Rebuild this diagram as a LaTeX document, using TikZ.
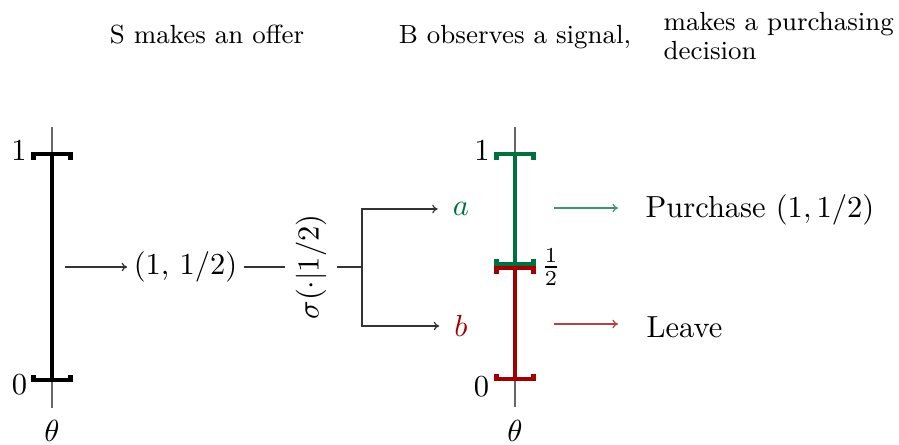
\documentclass[tikz,border=0pt]{standalone}
\usepackage{xcolor}
\usetikzlibrary{arrows.meta}
\definecolor{sgreen}{RGB}{0,112,62}
\definecolor{sred}{RGB}{162,0,0}
\begin{document}
\begin{tikzpicture}[x=0.32787pt,y=-0.32787pt,
  >={Computer Modern Rightarrow[length=1.8pt,width=2.8pt]},
  axisline/.style={draw=black!60, line width=0.4pt},
  bar/.style={line width=1.45pt},
  conn/.style={draw=black!80, line width=0.4pt},
  head/.style={font=\fontsize{8.6}{9.5}\selectfont, inner sep=0pt},
  lbl/.style={inner sep=0pt},
  leaf/.style={inner xsep=4.8pt}]
\useasboundingbox (0,0) rectangle (899,444);

% headings
\node[head, anchor=base] (h1) at (207,43) {S makes an offer};
\node[head, anchor=base] (h2) at (515,43) {B observes a signal,};
\node[head, anchor=north west, align=left] (h3) at (663,12) {makes a purchasing\\decision};

% left axis
\draw[axisline] (52,127) -- (52,408);
\draw[bar] (52,154) -- (52,380);
\draw[bar] (33.5,159.5) -- (33.5,154) -- (70.5,154) -- (70.5,159.5);
\draw[bar] (33.5,374.5) -- (33.5,380) -- (70.5,380) -- (70.5,374.5);
\node[lbl] (l1) at (19,150.5) {$1$};
\node[lbl] (l0) at (19.5,385) {$0$};
\node[lbl] (lt) at (52,431) {$\theta$};

% middle
\coordinate (s0) at (65,267);
\node[inner xsep=2pt] (p) at (185.5,267) {(1, 1/2)};
\node[rotate=90] (sg) at (311,267) {$\sigma(\cdot|1/2)$};
\coordinate (j) at (362,267);
\node[leaf, text=sgreen] (a) at (461,209) {$a$};
\node[leaf, text=sred] (b) at (461,326) {$b$};
\draw[conn,->] (s0) -- (p);
\draw[conn] (p) -- (sg);
\draw[conn] (sg) -- (j);
\draw[conn,->] (j) |- (a);
\draw[conn,->] (j) |- (b);

% right axis
\draw[axisline] (515,127) -- (515,407);
\draw[bar, sgreen] (515,154) -- (515,264);
\draw[bar, sred] (515,268) -- (515,379);
\draw[bar, sgreen] (496.5,159.5) -- (496.5,154) -- (533.5,154) -- (533.5,159.5);
\draw[bar, sgreen] (496.5,258.5) -- (496.5,264) -- (533.5,264) -- (533.5,258.5);
\draw[bar, sred] (496.5,273.5) -- (496.5,268) -- (533.5,268) -- (533.5,273.5);
\draw[bar, sred] (496.5,373.5) -- (496.5,379) -- (533.5,379) -- (533.5,373.5);
\node[lbl] (r1) at (482,150.5) {$1$};
\node[lbl] (r0) at (481.5,387) {$0$};
\node[lbl] (rh) at (551,267) {$\frac{1}{2}$};
\node[lbl] (rt) at (515,431) {$\theta$};

% outcomes
\coordinate (gs) at (554,208);
\coordinate (ge) at (618,208);
\coordinate (rs) at (554,324);
\coordinate (re) at (618,324);
\draw[line width=0.4pt, sgreen!75, ->] (gs) -- (ge);
\draw[line width=0.4pt, sred!75, ->] (rs) -- (re);
\node[lbl, anchor=base west] (pur) at (645,217) {Purchase $(1,1/2)$};
\node[lbl, anchor=base west] (lv) at (646,337) {Leave};
\end{tikzpicture}
\end{document}
